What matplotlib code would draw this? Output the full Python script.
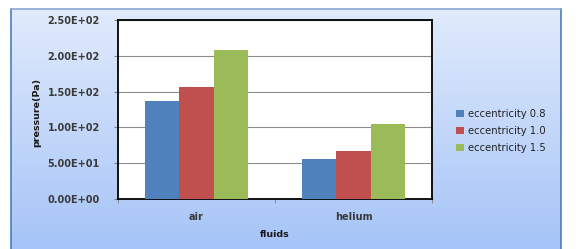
import matplotlib
matplotlib.use("Agg")
import matplotlib.pyplot as plt
import numpy as np

categories = ["air", "helium"]
series_names = ["eccentricity 0.8", "eccentricity 1.0", "eccentricity 1.5"]
ecc_08 = [137, 55.5]
ecc_10 = [156, 67]
ecc_15 = [208, 105]
yticks = [0, 50, 100, 150, 200, 250]
ytick_labels = ["0.00E+00", "5.00E+01", "1.00E+02", "1.50E+02", "2.00E+02", "2.50E+02"]
colors = ["#4f81bd", "#c0504d", "#9bbb59"]

W, H = 579, 249
fig = plt.figure(figsize=(W / 100, H / 100), dpi=100)
fig.patch.set_facecolor("white")

# background gradient frame
bg = fig.add_axes([11 / W, 0, (561 - 11) / W, (H - 9) / H])
grad = np.linspace(0, 1, 256).reshape(-1, 1)
top = np.array([0xe1, 0xeb, 0xfc]) / 255
bot = np.array([0xa6, 0xc4, 0xf8]) / 255
img = top[None, None, :] * (1 - grad[:, :, None]) + bot[None, None, :] * grad[:, :, None]
bg.imshow(img, aspect="auto", extent=[0, 1, 0, 1])
bg.set_xlim(0, 1)
bg.set_ylim(0, 1)
bg.set_xticks([])
bg.set_yticks([])
for s in ["left", "right"]:
    bg.spines[s].set_color("#4a7ebb")
    bg.spines[s].set_linewidth(1.2)
bg.spines["top"].set_color("#8aa6d6")
bg.spines["top"].set_linewidth(1.2)
bg.spines["bottom"].set_visible(False)
bg.set_zorder(0)

# plot area
L, R, T, B = 118, 432, 20, 199
ax = fig.add_axes([L / W, 1 - B / H, (R - L) / W, (B - T) / H])
ax.set_facecolor("white")
ax.set_zorder(1)
x = np.arange(len(categories))
bw = 0.22
for i, (vals, name) in enumerate(zip([ecc_08, ecc_10, ecc_15], series_names)):
    ax.bar(x + (i - 1) * bw, vals, width=bw, color=colors[i], label=name, zorder=3)
ax.set_xlim(-0.5, 1.5)
ax.set_ylim(0, 250)
ax.set_yticks(yticks)
ax.set_yticklabels(ytick_labels)
ax.yaxis.grid(True, color="#8c8c8c", linewidth=0.8, zorder=0)
ax.set_axisbelow(True)
ax.set_xticks(x)
ax.set_xticklabels(categories)
ax.set_xticks([-0.5, 0.5, 1.5], minor=True)
ax.tick_params(axis="x", which="major", length=0, pad=9)
ax.tick_params(axis="x", which="minor", length=3, color="#808080", direction="out")
ax.tick_params(axis="y", length=3, color="#808080", direction="out", pad=10)
for lab in ax.get_xticklabels() + ax.get_yticklabels():
    lab.set_fontsize(7)
    lab.set_fontweight("bold")
    lab.set_color("#3a3a3a")
for s in ax.spines.values():
    s.set_color("black")
    s.set_linewidth(1.3)
ax.set_xlabel("fluids", fontsize=6.8, fontweight="bold", color="#1a1a1a", labelpad=6)
fig.text(37 / W, 1 - 112 / H, "pressure(Pa)", rotation=90, fontsize=6.8, fontweight="bold",
         color="#1a1a1a", ha="center", va="center")

handles, labels = ax.get_legend_handles_labels()
leg = fig.legend(handles, labels, loc="center left", bbox_to_anchor=(447 / W, 1 - 131 / H),
                 frameon=False, fontsize=7.2, handlelength=0.8, handleheight=0.8,
                 handletextpad=0.4, labelspacing=0.7)
for t in leg.get_texts():
    t.set_color("#222222")

fig.savefig("out.png", dpi=100)
